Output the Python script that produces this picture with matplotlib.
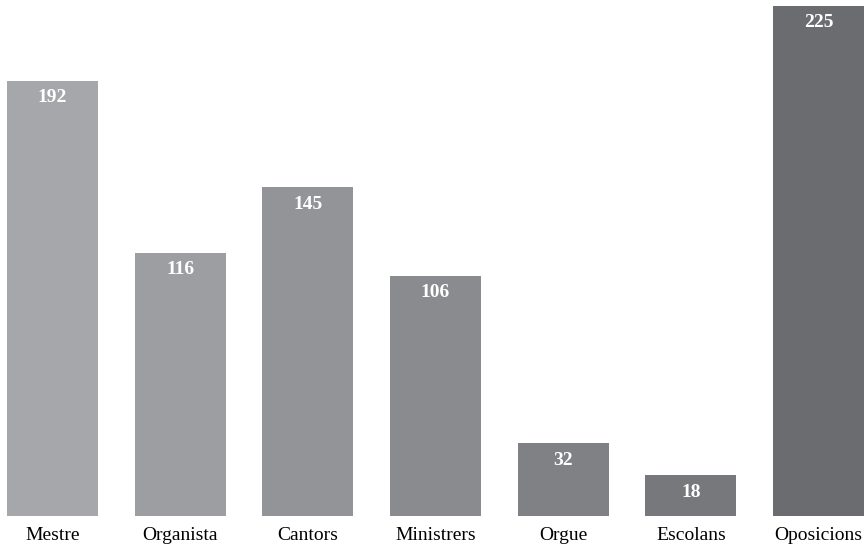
import matplotlib.pyplot as plt

categories = ['Mestre', 'Organista', 'Cantors', 'Ministrers', 'Orgue', 'Escolans', 'Oposicions']
values = [192, 116, 145, 106, 32, 18, 225]
colors = ['#a6a7ab', '#9d9ea2', '#939498', '#8a8b8f', '#808185', '#77787c', '#6b6c70']

plt.rcParams['font.family'] = ['Liberation Serif', 'DejaVu Serif']

fig = plt.figure(figsize=(8.68, 5.48), dpi=100)
ax = fig.add_axes([0, 32 / 548, 1, 516 / 548])

x = list(range(len(categories)))
bars = ax.bar(x, values, width=0.713, color=colors)

for xi, v in zip(x, values):
    ax.annotate(str(v), (xi, v), xytext=(0, -6), textcoords='offset points',
                ha='center', va='top', color='white', fontsize=14, fontweight='bold')

ax.set_xlim(-52.5 / 127.67, (868 - 52.5) / 127.67)
ax.set_ylim(0, 227.7)
ax.set_xticks(x)
ax.set_xticklabels(categories, fontsize=14)
ax.tick_params(axis='x', length=0, pad=8)
ax.set_yticks([])
for s in ax.spines.values():
    s.set_visible(False)

fig.savefig('out.png', dpi=100)
